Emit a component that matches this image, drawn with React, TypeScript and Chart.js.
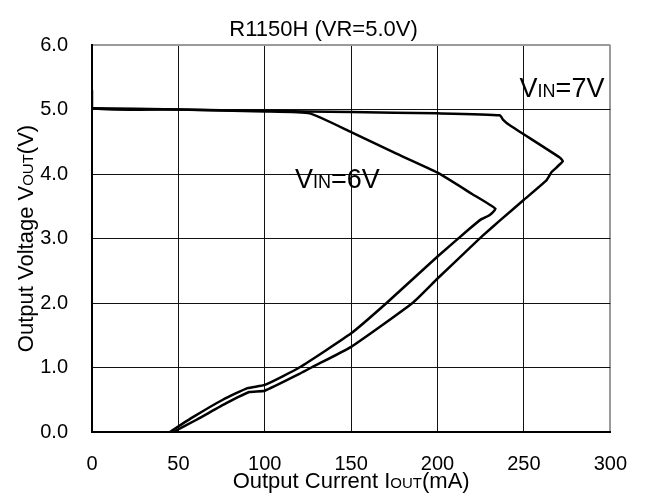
import React, { useEffect, useRef } from 'react';
import { Chart, registerables } from 'chart.js';

Chart.register(...registerables);

const FONT = '"Liberation Sans", Arial, Helvetica, sans-serif';

// VIN = 7V curve (output current mA, output voltage V)
const currentVin7 = [0, 0, 50, 100, 150, 200, 236, 238, 241.6, 270.5, 272.5, 268.8, 266, 263, 250, 237, 226, 218.5, 200, 185.5, 150, 127, 120, 100, 91, 78, 60.5, 47];
const voltageVin7 = [5.3, 5.02, 5.0, 4.98, 4.96, 4.94, 4.91, 4.84, 4.76, 4.26, 4.2, 4.1, 4.03, 3.9, 3.6, 3.3, 3.04, 2.85, 2.38, 2.0, 1.32, 1.0, 0.9, 0.64, 0.62, 0.45, 0.19, 0];

// VIN = 6V curve
const currentVin6 = [0, 50, 100, 126, 150, 175, 200, 220, 233.5, 230, 225.4, 218.5, 200, 170.5, 150, 120, 100, 90, 75.7, 58.4, 45];
const voltageVin6 = [5.02, 5.0, 4.97, 4.94, 4.65, 4.33, 4.02, 3.69, 3.46, 3.36, 3.3, 3.15, 2.72, 2.0, 1.53, 1.0, 0.73, 0.68, 0.5, 0.23, 0];

const xTickLabels = ['0', '50', '100', '150', '200', '250', '300'];
const yTickLabels = ['0.0', '1.0', '2.0', '3.0', '4.0', '5.0', '6.0'];

const titleText = 'R1150H (VR=5.0V)';
const xTitleParts: [string, number][] = [['Output Current I', 22], ['OUT', 15], ['(mA)', 22]];
const yTitleParts: [string, number][] = [['Output Voltage V', 22], ['OUT', 15], ['(V)', 22]];
const label6Parts: [string, number][] = [['V', 27], ['IN', 18], ['=6V', 27]];
const label7Parts: [string, number][] = [['V', 27], ['IN', 18], ['=7V', 27]];

function toPoints(xs: number[], ys: number[]) {
  return xs.map((x, i) => ({ x, y: ys[i] }));
}

function partsWidth(ctx: CanvasRenderingContext2D, parts: [string, number][]) {
  let w = 0;
  for (const [t, s] of parts) {
    ctx.font = `${s}px ${FONT}`;
    w += ctx.measureText(t).width;
  }
  return w;
}

function drawParts(ctx: CanvasRenderingContext2D, parts: [string, number][], x: number, y: number) {
  let cx = x;
  ctx.textBaseline = 'alphabetic';
  ctx.textAlign = 'left';
  for (const [t, s] of parts) {
    ctx.font = `${s}px ${FONT}`;
    ctx.fillText(t, cx, y);
    cx += ctx.measureText(t).width;
  }
}

const textPlugin = {
  id: 'textPlugin',
  afterDraw(chart: any) {
    const ctx: CanvasRenderingContext2D = chart.ctx;
    const area = chart.chartArea;
    ctx.save();
    ctx.fillStyle = '#000';
    // title
    const tw = partsWidth(ctx, [[titleText, 22]]);
    drawParts(ctx, [[titleText, 22]], chart.width / 2 - tw / 2, 36);
    // x axis title
    const xw = partsWidth(ctx, xTitleParts);
    drawParts(ctx, xTitleParts, (area.left + area.right) / 2 - xw / 2, 488);
    // y axis title
    const yw = partsWidth(ctx, yTitleParts);
    ctx.save();
    ctx.translate(32.5, (area.top + area.bottom) / 2);
    ctx.rotate(-Math.PI / 2);
    drawParts(ctx, yTitleParts, -yw / 2, 0);
    ctx.restore();
    // annotations
    const xs = chart.scales.x;
    const ys = chart.scales.y;
    drawParts(ctx, label6Parts, xs.getPixelForValue(117.5), ys.getPixelForValue(3.78));
    drawParts(ctx, label7Parts, xs.getPixelForValue(247.5), ys.getPixelForValue(5.19));
    ctx.restore();
  },
};

export default function App() {
  const canvasRef = useRef<HTMLCanvasElement | null>(null);

  useEffect(() => {
    const canvas = canvasRef.current;
    if (!canvas) return;
    const chart = new Chart(canvas, {
      type: 'scatter',
      data: {
        datasets: [
          {
            label: 'VIN=7V',
            data: toPoints(currentVin7, voltageVin7),
            showLine: true,
            borderColor: '#000',
            borderWidth: 2.5,
            pointRadius: 0,
            tension: 0.15,
            fill: false,
          },
          {
            label: 'VIN=6V',
            data: toPoints(currentVin6, voltageVin6),
            showLine: true,
            borderColor: '#000',
            borderWidth: 2.5,
            pointRadius: 0,
            tension: 0.15,
            fill: false,
          },
        ],
      },
      options: {
        responsive: false,
        maintainAspectRatio: false,
        animation: false,
        events: [],
        layout: { padding: { left: 0, right: 36, top: 45, bottom: 0 } },
        plugins: {
          legend: { display: false },
          tooltip: { enabled: false },
          title: { display: false },
        },
        scales: {
          x: {
            type: 'linear',
            min: 0,
            max: 300,
            ticks: {
              stepSize: 50,
              padding: 20,
              color: '#000',
              font: { family: FONT, size: 20 },
              maxRotation: 0,
              callback: (v: any) => xTickLabels[Math.round(Number(v) / 50)] ?? '',
            },
            grid: {
              color: (c: any) => (c.tick && c.tick.value === 300 ? '#9a9a9a' : '#111'),
              lineWidth: (c: any) => (c.tick && c.tick.value === 300 ? 2 : 1),
              drawTicks: false,
              tickLength: 0,
            },
            border: { color: '#000', width: 2 },
            afterFit: (s: any) => {
              s.height = 65;
            },
          },
          y: {
            type: 'linear',
            min: 0,
            max: 6,
            ticks: {
              stepSize: 1,
              padding: 24,
              color: '#000',
              font: { family: FONT, size: 20 },
              callback: (v: any) => yTickLabels[Math.round(Number(v))] ?? '',
            },
            grid: {
              color: (c: any) => (c.tick && c.tick.value === 6 ? '#9a9a9a' : '#111'),
              lineWidth: (c: any) => (c.tick && c.tick.value === 6 ? 2 : 1),
              drawTicks: false,
              tickLength: 0,
            },
            border: { color: '#000', width: 2 },
            afterFit: (s: any) => {
              s.width = 92;
            },
          },
        },
      } as any,
      plugins: [textPlugin],
    });
    return () => chart.destroy();
  }, []);

  return (
    <div style={{ position: 'absolute', left: 0, top: 0, width: 647, height: 497, background: '#fff' }}>
      <canvas ref={canvasRef} width={647} height={497} style={{ display: 'block' }} />
    </div>
  );
}
